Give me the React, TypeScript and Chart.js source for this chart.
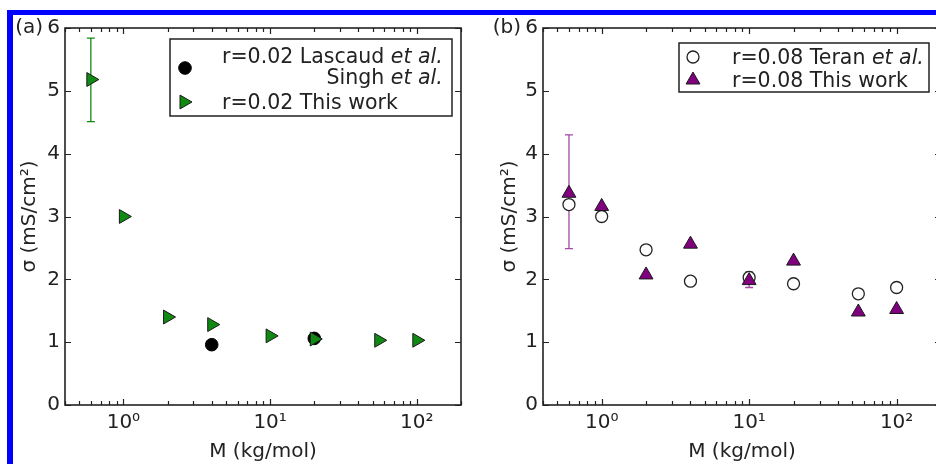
import React, { useEffect, useRef } from 'react';
import { Chart, registerables } from 'chart.js';

Chart.register(...registerables);

// ---------- data ----------
const massA = [0.6, 1, 2, 4, 10, 20, 55, 100];
const sigmaThisWorkA = [5.18, 3.0, 1.4, 1.28, 1.1, 1.05, 1.03, 1.03];
const errLowA = [4.51, null, null, null, null, null, null, null];
const errHighA = [5.84, null, null, null, null, null, null, null];
const massLitA = [4, 20];
const sigmaLitA = [0.96, 1.06];

const massB = [0.6, 1, 2, 4, 10, 20, 55, 100];
const sigmaTeranB = [3.19, 3.0, 2.47, 1.97, 2.03, 1.93, 1.77, 1.87];
const sigmaThisWorkB = [3.37, 3.16, 2.07, 2.56, 1.98, 2.29, 1.48, 1.52];
const errLowB = [2.49, null, null, null, 1.87, null, null, null];
const errHighB = [4.3, null, null, null, 2.12, null, null, null];

const xMin = 0.4;
const xMax = 200;
const xMajorTicks = [1, 10, 100];
const xMajorLabels = ['10\u2070', '10\u00B9', '10\u00B2'];
const xDecades = [0.1, 1, 10, 100];
const xMinorMultipliers = [2, 3, 4, 5, 6, 7, 8, 9];
const yTickStep = 1;
const yMin = 0;
const yMax = 6;

const xTitle = 'M (kg/mol)';
const yTitle = '\u03C3 (mS/cm\u00B2)';

const legendA = [
  { parts: [['r=0.02 Lascaud ', false], ['et al.', true]], second: [['Singh ', false], ['et al.', true]] },
  { parts: [['r=0.02 This work', false]] },
];
const legendB = [
  { parts: [['r=0.08 Teran ', false], ['et al.', true]] },
  { parts: [['r=0.08 This work', false]] },
];

// ---------- style ----------
const FONT = "'DejaVu Sans', sans-serif";
const INK = '#222222';
const GREEN = '#118a14';
const PURPLE = '#800080';
const LEGEND_SIZE = 20.5;

const xTickValues: number[] = (() => {
  const vals: number[] = [];
  xDecades.forEach((d) => {
    [1, ...xMinorMultipliers].forEach((m) => {
      const v = m * d;
      if (v >= xMin - 1e-9 && v <= xMax + 1e-9) vals.push(v);
    });
  });
  return vals;
})();

function drawMarker(ctx: CanvasRenderingContext2D, style: string, x: number, y: number, r: number, rot: number, fill: string, stroke: string, bw: number) {
  ctx.beginPath();
  if (style === 'circle') {
    ctx.arc(x, y, r, 0, Math.PI * 2);
  } else {
    let a = (rot * Math.PI) / 180;
    ctx.moveTo(x + Math.sin(a) * r, y - Math.cos(a) * r);
    a += (2 * Math.PI) / 3;
    ctx.lineTo(x + Math.sin(a) * r, y - Math.cos(a) * r);
    a += (2 * Math.PI) / 3;
    ctx.lineTo(x + Math.sin(a) * r, y - Math.cos(a) * r);
    ctx.closePath();
  }
  ctx.fillStyle = fill;
  ctx.fill();
  ctx.strokeStyle = stroke;
  ctx.lineWidth = bw;
  ctx.stroke();
}

function partsWidth(ctx: CanvasRenderingContext2D, parts: any[], size: number) {
  let w = 0;
  parts.forEach(([t, it]) => {
    ctx.font = `${it ? 'italic ' : ''}${size}px ${FONT}`;
    w += ctx.measureText(t).width;
  });
  return w;
}

function drawParts(ctx: CanvasRenderingContext2D, parts: any[], x: number, y: number, size: number) {
  let cx = x;
  parts.forEach(([t, it]) => {
    ctx.font = `${it ? 'italic ' : ''}${size}px ${FONT}`;
    ctx.fillText(t, cx, y);
    cx += ctx.measureText(t).width;
  });
}

const errorBarPlugin = {
  id: 'errorBars',
  beforeDatasetsDraw(chart: any, _args: any, opts: any) {
    const { ctx, scales } = chart;
    if (!opts || !opts.sets) return;
    ctx.save();
    opts.sets.forEach((s: any) => {
      ctx.strokeStyle = s.color;
      ctx.lineWidth = 1.3;
      s.x.forEach((xv: number, i: number) => {
        const lo = s.low[i];
        const hi = s.high[i];
        if (lo == null || hi == null) return;
        const px = scales.x.getPixelForValue(xv);
        const p1 = scales.y.getPixelForValue(lo);
        const p2 = scales.y.getPixelForValue(hi);
        ctx.beginPath();
        ctx.moveTo(px, p1);
        ctx.lineTo(px, p2);
        ctx.moveTo(px - 4, p1);
        ctx.lineTo(px + 4, p1);
        ctx.moveTo(px - 4, p2);
        ctx.lineTo(px + 4, p2);
        ctx.stroke();
      });
    });
    ctx.restore();
  },
};

const framePlugin = {
  id: 'frame',
  afterDatasetsDraw(chart: any, _args: any, opts: any) {
    const { ctx, chartArea: a, scales } = chart;
    ctx.save();
    ctx.strokeStyle = INK;
    ctx.lineWidth = 1.2;
    ctx.beginPath();
    scales.x.ticks.forEach((t: any) => {
      const px = Math.round(scales.x.getPixelForValue(t.value)) + 0.5;
      const len = xMajorTicks.includes(t.value) ? 6 : 4;
      ctx.moveTo(px, a.bottom);
      ctx.lineTo(px, a.bottom - len);
      ctx.moveTo(px, a.top);
      ctx.lineTo(px, a.top + len);
    });
    scales.y.ticks.forEach((t: any) => {
      const py = Math.round(scales.y.getPixelForValue(t.value)) + 0.5;
      ctx.moveTo(a.left, py);
      ctx.lineTo(a.left + 6, py);
      ctx.moveTo(a.right, py);
      ctx.lineTo(a.right - 6, py);
    });
    ctx.stroke();
    ctx.lineWidth = 1.6;
    ctx.strokeRect(a.left, a.top, a.right - a.left, a.bottom - a.top);
    if (opts && opts.label) {
      ctx.fillStyle = INK;
      ctx.font = `20px ${FONT}`;
      ctx.textAlign = 'right';
      ctx.textBaseline = 'middle';
      ctx.fillText(opts.label, a.left - 22, a.top);
    }
    ctx.restore();
  },
};

const boxLegendPlugin = {
  id: 'boxLegend',
  afterDraw(chart: any, _args: any, opts: any) {
    if (!opts || !opts.rows) return;
    const { ctx } = chart;
    const ds = chart.data.datasets;
    const [l, t, r, b] = opts.box;
    ctx.save();
    ctx.fillStyle = '#ffffff';
    ctx.fillRect(l, t, r - l, b - t);
    ctx.strokeStyle = INK;
    ctx.lineWidth = 1.5;
    ctx.strokeRect(l, t, r - l, b - t);
    ctx.fillStyle = INK;
    ctx.textAlign = 'left';
    ctx.textBaseline = 'alphabetic';
    opts.rows.forEach((row: any) => {
      const d = ds[row.dataset];
      drawMarker(ctx, d.pointStyle, row.mx, row.my, d.pointRadius, d.rotation || 0, d.backgroundColor, d.borderColor, d.borderWidth);
      ctx.fillStyle = INK;
      drawParts(ctx, row.item.parts, row.tx, row.ty, LEGEND_SIZE);
      if (row.item.second) {
        const w1 = partsWidth(ctx, row.item.parts, LEGEND_SIZE);
        const w2 = partsWidth(ctx, row.item.second, LEGEND_SIZE);
        drawParts(ctx, row.item.second, row.tx + w1 - w2, row.ty2, LEGEND_SIZE);
      }
    });
    ctx.restore();
  },
};

function makeOptions(yAxisWidth: number, yTitlePad: number, panelLabel: string, errSets: any[], legend: any) {
  return {
    responsive: false,
    animation: false,
    events: [],
    layout: { padding: { top: 28, right: 7, left: 0, bottom: 0 } },
    scales: {
      x: {
        type: 'logarithmic',
        min: xMin,
        max: xMax,
        grid: { display: false, drawTicks: false },
        border: { display: false },
        afterBuildTicks: (s: any) => {
          s.ticks = xTickValues.map((v) => ({ value: v }));
        },
        afterFit: (s: any) => {
          s.height = 59;
        },
        ticks: {
          autoSkip: false,
          maxRotation: 0,
          minRotation: 0,
          padding: 6,
          color: INK,
          font: { family: FONT, size: 20 },
          callback: (v: any) => {
            const i = xMajorTicks.indexOf(Number(v));
            return i >= 0 ? xMajorLabels[i] : '';
          },
        },
        title: { display: true, text: xTitle, color: INK, font: { family: FONT, size: 20 }, padding: { top: 0, bottom: 0 } },
      },
      y: {
        type: 'linear',
        min: yMin,
        max: yMax,
        grid: { display: false, drawTicks: false },
        border: { display: false },
        afterFit: (s: any) => {
          s.width = yAxisWidth;
        },
        ticks: { stepSize: yTickStep, padding: 5, color: INK, font: { family: FONT, size: 20 } },
        title: { display: true, text: yTitle, color: INK, font: { family: FONT, size: 20 }, padding: { top: yTitlePad, bottom: 0 } },
      },
    },
    plugins: {
      legend: { display: false },
      tooltip: { enabled: false },
      errorBars: { sets: errSets },
      frame: { label: panelLabel },
      boxLegend: legend,
    },
  };
}

function configA(): any {
  return {
    type: 'scatter',
    data: {
      datasets: [
        {
          label: 'r=0.02 This work',
          data: massA.map((x, i) => ({ x, y: sigmaThisWorkA[i] })),
          pointStyle: 'triangle',
          rotation: 90,
          pointRadius: 8,
          backgroundColor: GREEN,
          borderColor: '#1a1a1a',
          borderWidth: 1,
          order: 0,
          clip: false,
        },
        {
          label: 'r=0.02 Lascaud et al. / Singh et al.',
          data: massLitA.map((x, i) => ({ x, y: sigmaLitA[i] })),
          pointStyle: 'circle',
          pointRadius: 6.3,
          backgroundColor: '#000000',
          borderColor: '#000000',
          borderWidth: 1,
          order: 1,
          clip: false,
        },
      ],
    },
    options: makeOptions(65, 18, '(a)', [{ x: massA, low: errLowA, high: errHighA, color: GREEN }], {
      box: [170, 39, 452, 116],
      rows: [
        { dataset: 1, mx: 185, my: 68, tx: 222, ty: 63, ty2: 84, item: legendA[0] },
        { dataset: 0, mx: 184, my: 102, tx: 222, ty: 109, item: legendA[1] },
      ],
    }),
    plugins: [errorBarPlugin, framePlugin, boxLegendPlugin],
  };
}

function configB(): any {
  return {
    type: 'scatter',
    data: {
      datasets: [
        {
          label: 'r=0.08 This work',
          data: massB.map((x, i) => ({ x, y: sigmaThisWorkB[i] })),
          pointStyle: 'triangle',
          rotation: 0,
          pointRadius: 8,
          backgroundColor: PURPLE,
          borderColor: '#1a1a1a',
          borderWidth: 1,
          order: 0,
          clip: false,
        },
        {
          label: 'r=0.08 Teran et al.',
          data: massB.map((x, i) => ({ x, y: sigmaTeranB[i] })),
          pointStyle: 'circle',
          pointRadius: 6,
          backgroundColor: '#ffffff',
          borderColor: '#222222',
          borderWidth: 1.3,
          order: 1,
          clip: false,
        },
      ],
    },
    options: makeOptions(73, 28, '(b)', [{ x: massB, low: errLowB, high: errHighB, color: '#a34aa3' }], {
      box: [209, 43, 459, 92],
      rows: [
        { dataset: 1, mx: 223, my: 57, tx: 262, ty: 64, item: legendB[0] },
        { dataset: 0, mx: 223, my: 80, tx: 262, ty: 87, item: legendB[1] },
      ],
    }),
    plugins: [errorBarPlugin, framePlugin, boxLegendPlugin],
  };
}

export default function App() {
  const refA = useRef<HTMLCanvasElement>(null);
  const refB = useRef<HTMLCanvasElement>(null);
  useEffect(() => {
    const ca = new Chart(refA.current as HTMLCanvasElement, configA());
    const cb = new Chart(refB.current as HTMLCanvasElement, configB());
    return () => {
      ca.destroy();
      cb.destroy();
    };
  }, []);
  return (
    <div style={{ position: 'fixed', left: 0, top: 0, width: 936, height: 464, overflow: 'hidden', background: '#ffffff' }}>
      <div
        style={{
          position: 'absolute',
          left: 7,
          top: 10,
          width: 1200,
          height: 1200,
          borderTop: '5px solid #0000ff',
          borderLeft: '6px solid #0000ff',
          boxSizing: 'border-box',
        }}
      />
      <canvas ref={refA} width={470} height={464} style={{ position: 'absolute', left: 0, top: 0, width: 470, height: 464 }} />
      <canvas ref={refB} width={480} height={464} style={{ position: 'absolute', left: 470, top: 0, width: 480, height: 464 }} />
    </div>
  );
}
